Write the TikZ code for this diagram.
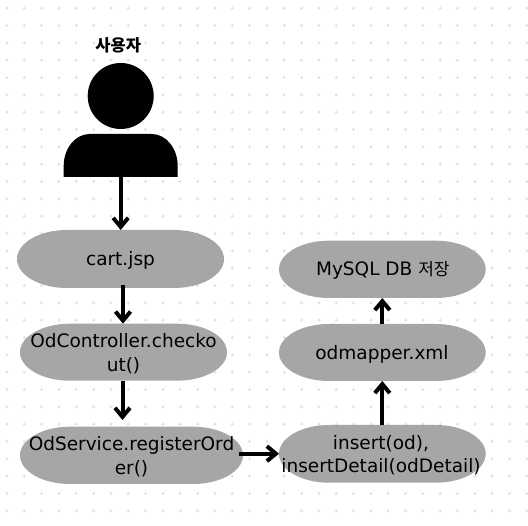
\documentclass[tikz,border=0pt]{standalone}
\usepackage{fontspec}
\setmainfont{DejaVu Sans}
\newfontfamily\krfont{Noto Sans CJK KR}
\usetikzlibrary{arrows.meta}
\definecolor{pillgray}{HTML}{A6A6A6}
\definecolor{dotgray}{HTML}{E0E2EA}
\tikzset{
  x=1pt,y=-1pt,
  pilltext/.style={align=center,font=\fontsize{18.5}{23.6}\selectfont,text=black,inner sep=0pt},
  flow/.style={line width=4pt,-{Straight Barb[length=9pt,width=15pt,line width=4pt]}},
  person/.style={fill=black,draw=none}
}
% x1, y1, x2, y2: extent of a pill with elliptical ends
\newcommand{\pillshape}[4]{%
  \fill[pillgray] (#1+50,#2) -- (#3-50,#2)
    arc[start angle=-90,end angle=90,x radius=50,y radius={(#4-#2)/2}]
    -- (#1+50,#4)
    arc[start angle=90,end angle=270,x radius=50,y radius={(#4-#2)/2}] -- cycle;
}
\begin{document}
\begin{tikzpicture}
\useasboundingbox (0,0) rectangle (528,526);
\fill[white] (0,0) rectangle (528,526);
\foreach \i in {0,...,30}{\foreach \j in {0,...,29}{
  \fill[dotgray] (7+\i*17.33,8.3+\j*17.33) circle[radius=1.6];
}}
% person
\node[person,circle,minimum size=66pt,inner sep=0pt] (head) at (120.7,96) {};
\fill[black] (63.7,177) -- (63.7,166) arc[start angle=180,end angle=270,x radius=26,y radius=32]
  -- (151.7,134) arc[start angle=270,end angle=360,x radius=26,y radius=32] -- (177.7,177) -- cycle;
\coordinate (body) at (120.7,176);
\node[font=\krfont\fontsize{16.5}{20}\selectfont\bfseries,inner sep=0pt] (user) at (118.2,45) {사용자};
% pills
\pillshape{17}{230}{224}{288}
\pillshape{20}{323.7}{227}{380.7}
\pillshape{20}{426.7}{243}{484}
\pillshape{279}{240.7}{485.7}{298}
\pillshape{279}{324}{485.7}{381}
\pillshape{279}{425}{485.7}{482.7}
\node[pilltext] (cart) at (120.5,260.5) {cart.jsp};
\node[pilltext] (ctrl) at (123.5,353.5) {OdController.checko\\ut()};
\node[pilltext] (svc) at (131.5,456.5) {OdService.registerOrd\\er()};
\node[pilltext] (db) at (382.8,270.5) {MySQL DB {\krfont\fontsize{17}{20}\selectfont 저장}};
\node[pilltext] (map) at (382,354) {odmapper.xml};
\node[pilltext] (ins) at (381,455) {insert(od),\\insertDetail(odDetail)};
\coordinate (cartTop) at (120.7,230);
\coordinate (cartBot) at (123,285);
\coordinate (ctrlTop) at (123,323.7);
\coordinate (ctrlBot) at (122.5,381);
\coordinate (svcTop) at (122.5,420);
\coordinate (svcR) at (239,453.7);
\coordinate (insL) at (279,453.7);
\coordinate (insTop) at (382.3,425);
\coordinate (mapBot) at (382.3,381);
\coordinate (mapTop) at (382.3,324);
\coordinate (dbBot) at (382.3,298);
\draw[flow] (body) -- (cartTop);
\draw[flow] (cartBot) -- (ctrlTop);
\draw[flow] (ctrlBot) -- (svcTop);
\draw[flow] (svcR) -- (insL);
\draw[flow] (insTop) -- (mapBot);
\draw[flow] (mapTop) -- (dbBot);
\end{tikzpicture}
\end{document}
